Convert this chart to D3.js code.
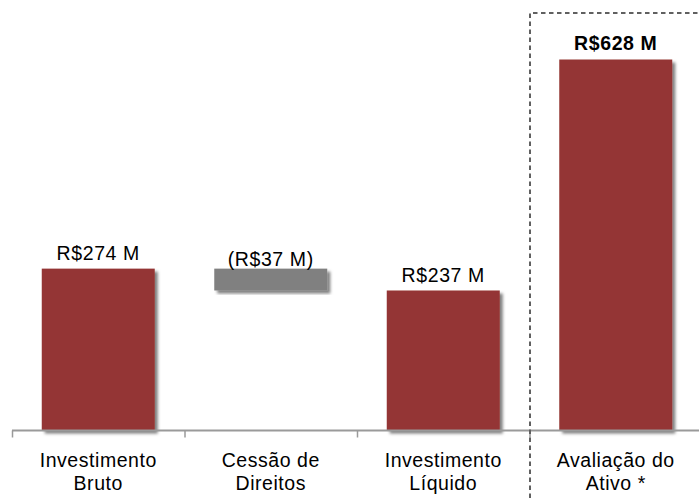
<!DOCTYPE html>
<html>
<head>
<meta charset="utf-8">
<script src="https://cdn.jsdelivr.net/npm/d3@7"></script>
<style>
  html, body { margin: 0; padding: 0; background: #fff; }
  svg { display: block; }
  text { font-family: "Liberation Sans", Arial, sans-serif; fill: #000; }
</style>
</head>
<body>
<svg id="chart" width="699" height="498"></svg>
<script>
// ---- data ----
const categories = [["Investimento", "Bruto"], ["Cessão de", "Direitos"], ["Investimento", "Líquido"], ["Avaliação do", "Ativo *"]];
const starts = [0, 274, 0, 0];        // base of each bar
const ends = [274, 237, 237, 628];     // end of each bar
const valueLabels = ["R$274 M", "(R$37 M)", "R$237 M", "R$628 M"];
const barTypes = ["total", "delta", "total", "highlight"];

// ---- layout ----
const W = 699, H = 498;
const svg = d3.select("#chart");
const keys = categories.map((d, i) => i);

const x = d3.scaleBand().domain(keys).range([12, 702]).paddingInner(0.345).paddingOuter(0.1725);
const y = d3.scaleLinear().domain([0, 628]).range([430.5, 59.5]);

const defs = svg.append("defs");
const f = defs.append("filter").attr("id", "shadow").attr("x", "-10%").attr("y", "-10%").attr("width", "130%").attr("height", "130%");
f.append("feDropShadow").attr("dx", 3).attr("dy", 3).attr("stdDeviation", 1.6)
  .attr("flood-color", "#000").attr("flood-opacity", 0.5);

const colors = { total: "#943634", delta: "#808080", highlight: "#943634" };

// bars
svg.append("g").selectAll("rect").data(keys).join("rect")
  .attr("x", i => x(i))
  .attr("width", x.bandwidth())
  .attr("y", i => y(Math.max(starts[i], ends[i])))
  .attr("height", i => Math.abs(y(starts[i]) - y(ends[i])))
  .attr("fill", i => colors[barTypes[i]])
  .attr("filter", "url(#shadow)");

// axis line and ticks at band boundaries
const step = x.step();
const x0 = x.range()[0];
const axisY = y(0);
svg.append("line").attr("x1", x0).attr("x2", W).attr("y1", axisY).attr("y2", axisY)
  .attr("stroke", "#9a9a9a").attr("stroke-width", 2);
svg.append("g").selectAll("line").data(d3.range(categories.length)).join("line")
  .attr("x1", i => x0 + i * step + 0.5).attr("x2", i => x0 + i * step + 0.5)
  .attr("y1", axisY).attr("y2", axisY + 7)
  .attr("stroke", "#9a9a9a").attr("stroke-width", 1.5);

// value labels
const labelOffset = [8.5, 3, 8.5, 9.5];
svg.append("g").selectAll("text").data(keys).join("text")
  .attr("x", i => x(i) + x.bandwidth() / 2)
  .attr("y", i => y(Math.max(starts[i], ends[i])) - labelOffset[i])
  .attr("text-anchor", "middle")
  .style("font-size", "19.5px")
  .style("letter-spacing", "0.6px")
  .style("font-weight", i => barTypes[i] === "highlight" ? "bold" : "normal")
  .text(i => valueLabels[i]);

// category labels
const catG = svg.append("g");
keys.forEach(i => {
  const t = catG.append("text")
    .attr("text-anchor", "middle")
    .style("font-size", "19.5px")
    .style("letter-spacing", "0.55px");
  categories[i].forEach((line, j) => {
    t.append("tspan").attr("x", x(i) + x.bandwidth() / 2).attr("y", 467 + j * 23).text(line);
  });
});

// dashed highlight box around last category
const bx = Math.round(x0 + 3 * step);
svg.append("path")
  .attr("d", `M${bx},${H} L${bx},13 L${W + 5},13`)
  .attr("fill", "none")
  .attr("stroke", "#606060")
  .attr("stroke-width", 2)
  .attr("stroke-dasharray", "4.5,3.5");
</script>
</body>
</html>
